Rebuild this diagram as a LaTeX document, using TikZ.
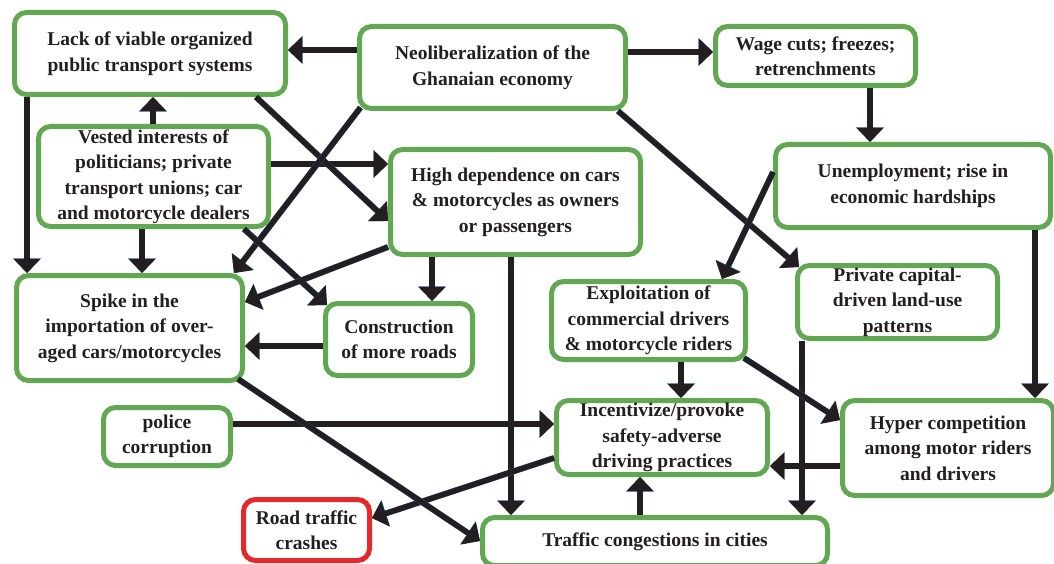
\documentclass[tikz,border=0pt]{standalone}
\usepackage{fontspec}
\setmainfont{Liberation Serif}
\usetikzlibrary{arrows.meta}
\definecolor{boxgreen}{HTML}{62A853}
\definecolor{boxred}{HTML}{E5282B}
\definecolor{ink}{HTML}{231F20}
\definecolor{edgeblue}{HTML}{2F4F7F}
\begin{document}
\begin{tikzpicture}[x=1pt,y=-1pt,
  box/.style={draw=boxgreen, line width=5pt, rounded corners=12pt, fill=white,
    align=center, inner sep=0pt, text=ink,
    font=\fontsize{19.5}{25.5}\selectfont\bfseries},
  redbox/.style={box, draw=boxred},
  link/.style={draw=ink, line width=5.2pt, -{Triangle[length=14pt,width=26pt]},
    preaction={draw=edgeblue, line width=6pt, -{Triangle[length=14.6pt,width=27pt]}}}]
\useasboundingbox (0,0) rectangle (1054,564);
% nodes
\node[box, minimum width=271pt, minimum height=82pt] (L) at (150,53.5) {Lack of viable organized\\public transport systems};
\node[box, minimum width=266pt, minimum height=82pt] (N) at (492.5,67.5) {Neoliberalization of the\\Ghanaian economy};
\node[box, minimum width=200pt, minimum height=59pt] (W) at (815.5,56) {Wage cuts; freezes;\\retrenchments};
\node[box, minimum width=230pt, minimum height=100pt] (V) at (153.5,176.5) {Vested interests of\\politicians; private\\transport unions; car\\and motorcycle dealers};
\node[box, minimum width=250pt, minimum height=105pt] (H) at (515.5,202) {High dependence on cars\\\& motorcycles as owners\\or passengers};
\node[box, minimum width=275pt, minimum height=83pt] (U) at (913,186) {Unemployment; rise in\\economic hardships};
\node[box, minimum width=226pt, minimum height=105pt] (S) at (129.5,328) {Spike in the\\importation of over-\\aged cars/motorcycles};
\node[box, minimum width=147pt, minimum height=72pt] (C) at (399,339.5) {Construction\\of more roads};
\node[box, minimum width=200pt, minimum height=73pt] (P) at (897.5,302) {Private capital-\\driven land-use\\patterns};
\node[box, minimum width=194pt, minimum height=78pt] (E) at (648.5,320.5) {Exploitation of\\commercial drivers\\\& motorcycle riders};
\node[box, minimum width=127pt, minimum height=58pt] (Po) at (167,436.5) {police\\corruption};
\node[box, minimum width=211pt, minimum height=74pt] (I) at (662,437.5) {Incentivize/provoke\\safety-adverse\\driving practices};
\node[box, minimum width=211pt, minimum height=95pt] (Hy) at (948,448) {Hyper competition\\among motor riders\\and drivers};
\node[redbox, minimum width=126pt, minimum height=61pt] (R) at (306.5,530) {Road traffic\\crashes};
\node[box, minimum width=345pt, minimum height=48pt] (T) at (655,541.5) {Traffic congestions in cities};
% connectors
\draw[link] (N.west |- 0,50) -- (L.east |- 0,50);
\draw[link] (N.east |- 0,52) -- (W.west |- 0,52);
\draw[link] (W.south -| 870,0) -- (U.north -| 870,0);
\draw[link] (V.north -| 153,0) -- (L.south -| 153,0);
\draw[link] (L.south -| 27,0) -- (S.north -| 27,0);
\draw[link] (V.south -| 142,0) -- (S.north -| 142,0);
\draw[link] (V.east |- 0,164) -- (H.west |- 0,164);
\draw[link] (L.south -| 256,0) -- (H.west |- 0,221);
\draw[link] ([shift={(3.5,-3.5)}]N.south west) -- (S.north -| 234,0);
\draw[link] (V.south -| 244,0) -- ([shift={(4,4)}]C.north west);
\draw[link] (H.west |- 0,247) -- (S.east |- 0,302);
\draw[link] (H.south -| 432,0) -- (C.north -| 432,0);
\draw[link] (H.south -| 511,0) -- (T.north -| 511,0);
\draw[link] (C.west |- 0,346) -- (S.east |- 0,346);
\draw[link] (N.south -| 618,0) -- ([shift={(4,4)}]P.north west);
\draw[link] (U.west |- 0,172) -- (E.north -| 722,0);
\draw[link] (U.south -| 1035,0) -- (Hy.north -| 1035,0);
\draw[link] (P.south -| 802,0) -- (T.north -| 802,0);
\draw[link] (E.south -| 681,0) -- (I.north -| 681,0);
\draw[link] ([shift={(-4,-4)}]E.south east) -- (Hy.west |- 0,420);
\draw[link] (Hy.west |- 0,466) -- (I.east |- 0,466);
\draw[link] (Po.east |- 0,424) -- (I.west |- 0,424);
\draw[link] (I.west |- 0,458) -- (R.east |- 0,518);
\draw[link] ([shift={(-7,-4)}]S.south east) -- (T.west |- 0,541);
\draw[link] (T.north -| 640,0) -- (I.south -| 640,0);
\end{tikzpicture}
\end{document}
